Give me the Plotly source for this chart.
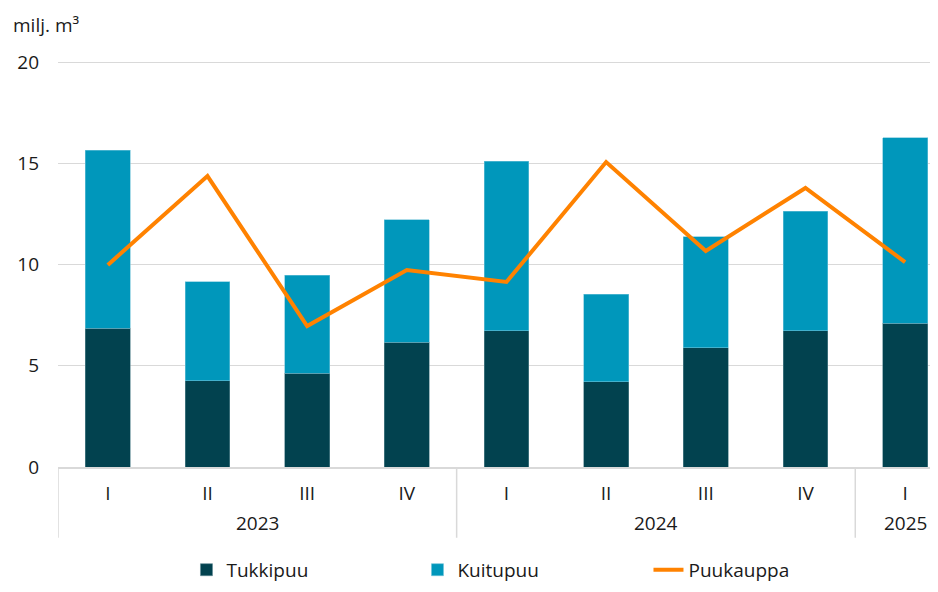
import plotly.graph_objects as go

years = ["2023", "2023", "2023", "2023", "2024", "2024", "2024", "2024", "2025"]
quarters = ["I", "II", "III", "IV", "I", "II", "III", "IV", "I"]

tukkipuu = [6.86, 4.25, 4.64, 6.17, 6.72, 4.20, 5.88, 6.72, 7.11]
kuitupuu_total = [15.65, 9.14, 9.48, 12.20, 15.11, 8.54, 11.36, 12.64, 16.25]
kuitupuu = [round(t - k, 2) for t, k in zip(kuitupuu_total, tukkipuu)]
puukauppa = [9.98, 14.37, 6.96, 9.73, 9.14, 15.06, 10.67, 13.78, 10.12]

font_family = "Open Sans"
grid_col = "#d9d9d9"
pos = list(range(len(quarters)))

fig = go.Figure()
fig.add_trace(go.Bar(x=pos, y=tukkipuu, name="Tukkipuu",
                     marker=dict(color="#02424f", line=dict(color="#5f8a94", width=0.6))))
fig.add_trace(go.Bar(x=pos, y=kuitupuu, name="Kuitupuu",
                     marker=dict(color="#0097bb", line=dict(color="#6fc3d8", width=0.6))))
fig.add_trace(go.Scatter(x=pos, y=puukauppa, name="Puukauppa",
                         mode="lines", line=dict(color="#ff8200", width=4)))

# year labels under the quarter labels and divider lines between the years
annotations = [dict(text="milj. m³", xref="paper", yref="paper", x=-0.053, y=1.081,
                    xanchor="left", yanchor="middle", showarrow=False,
                    font=dict(size=19))]
shapes = []
year_list = sorted(set(years))
for yr in year_list:
    idx = [i for i, y in enumerate(years) if y == yr]
    annotations.append(dict(text=yr, xref="x", yref="paper", x=sum(idx) / len(idx),
                            y=-0.138, yanchor="middle", showarrow=False,
                            font=dict(size=19)))
    shapes.append(dict(type="line", xref="x", yref="paper", x0=idx[0] - 0.5,
                       x1=idx[0] - 0.5, y0=0, y1=-0.173,
                       line=dict(color=grid_col, width=1.5)))

fig.update_layout(
    width=930, height=576,
    barmode="stack", bargap=0.55,
    plot_bgcolor="white", paper_bgcolor="white",
    margin=dict(l=50, r=0, t=50, b=117, autoexpand=False),
    font=dict(family=font_family, size=18, color="#1a1a1a"),
    showlegend=True,
    legend=dict(orientation="h", x=0.146, xanchor="left", y=-0.205, yanchor="top",
                entrywidth=186, entrywidthmode="pixels", font=dict(size=19),
                traceorder="normal"),
    annotations=annotations,
    shapes=shapes,
)
fig.update_xaxes(range=[-0.5, 8.33], tickvals=pos, ticktext=quarters,
                 showline=True, linecolor=grid_col, linewidth=1.5, showgrid=False,
                 zeroline=False, tickfont=dict(family=font_family, size=19),
                 ticks="", ticklabelstandoff=8, automargin=False)
fig.update_yaxes(range=[0, 20.2], tickvals=[0, 5, 10, 15, 20], showgrid=True,
                 gridcolor=grid_col, gridwidth=1, zeroline=False,
                 ticklabelstandoff=18, tickfont=dict(family=font_family, size=19),
                 automargin=False)

fig.write_html("out.html")
